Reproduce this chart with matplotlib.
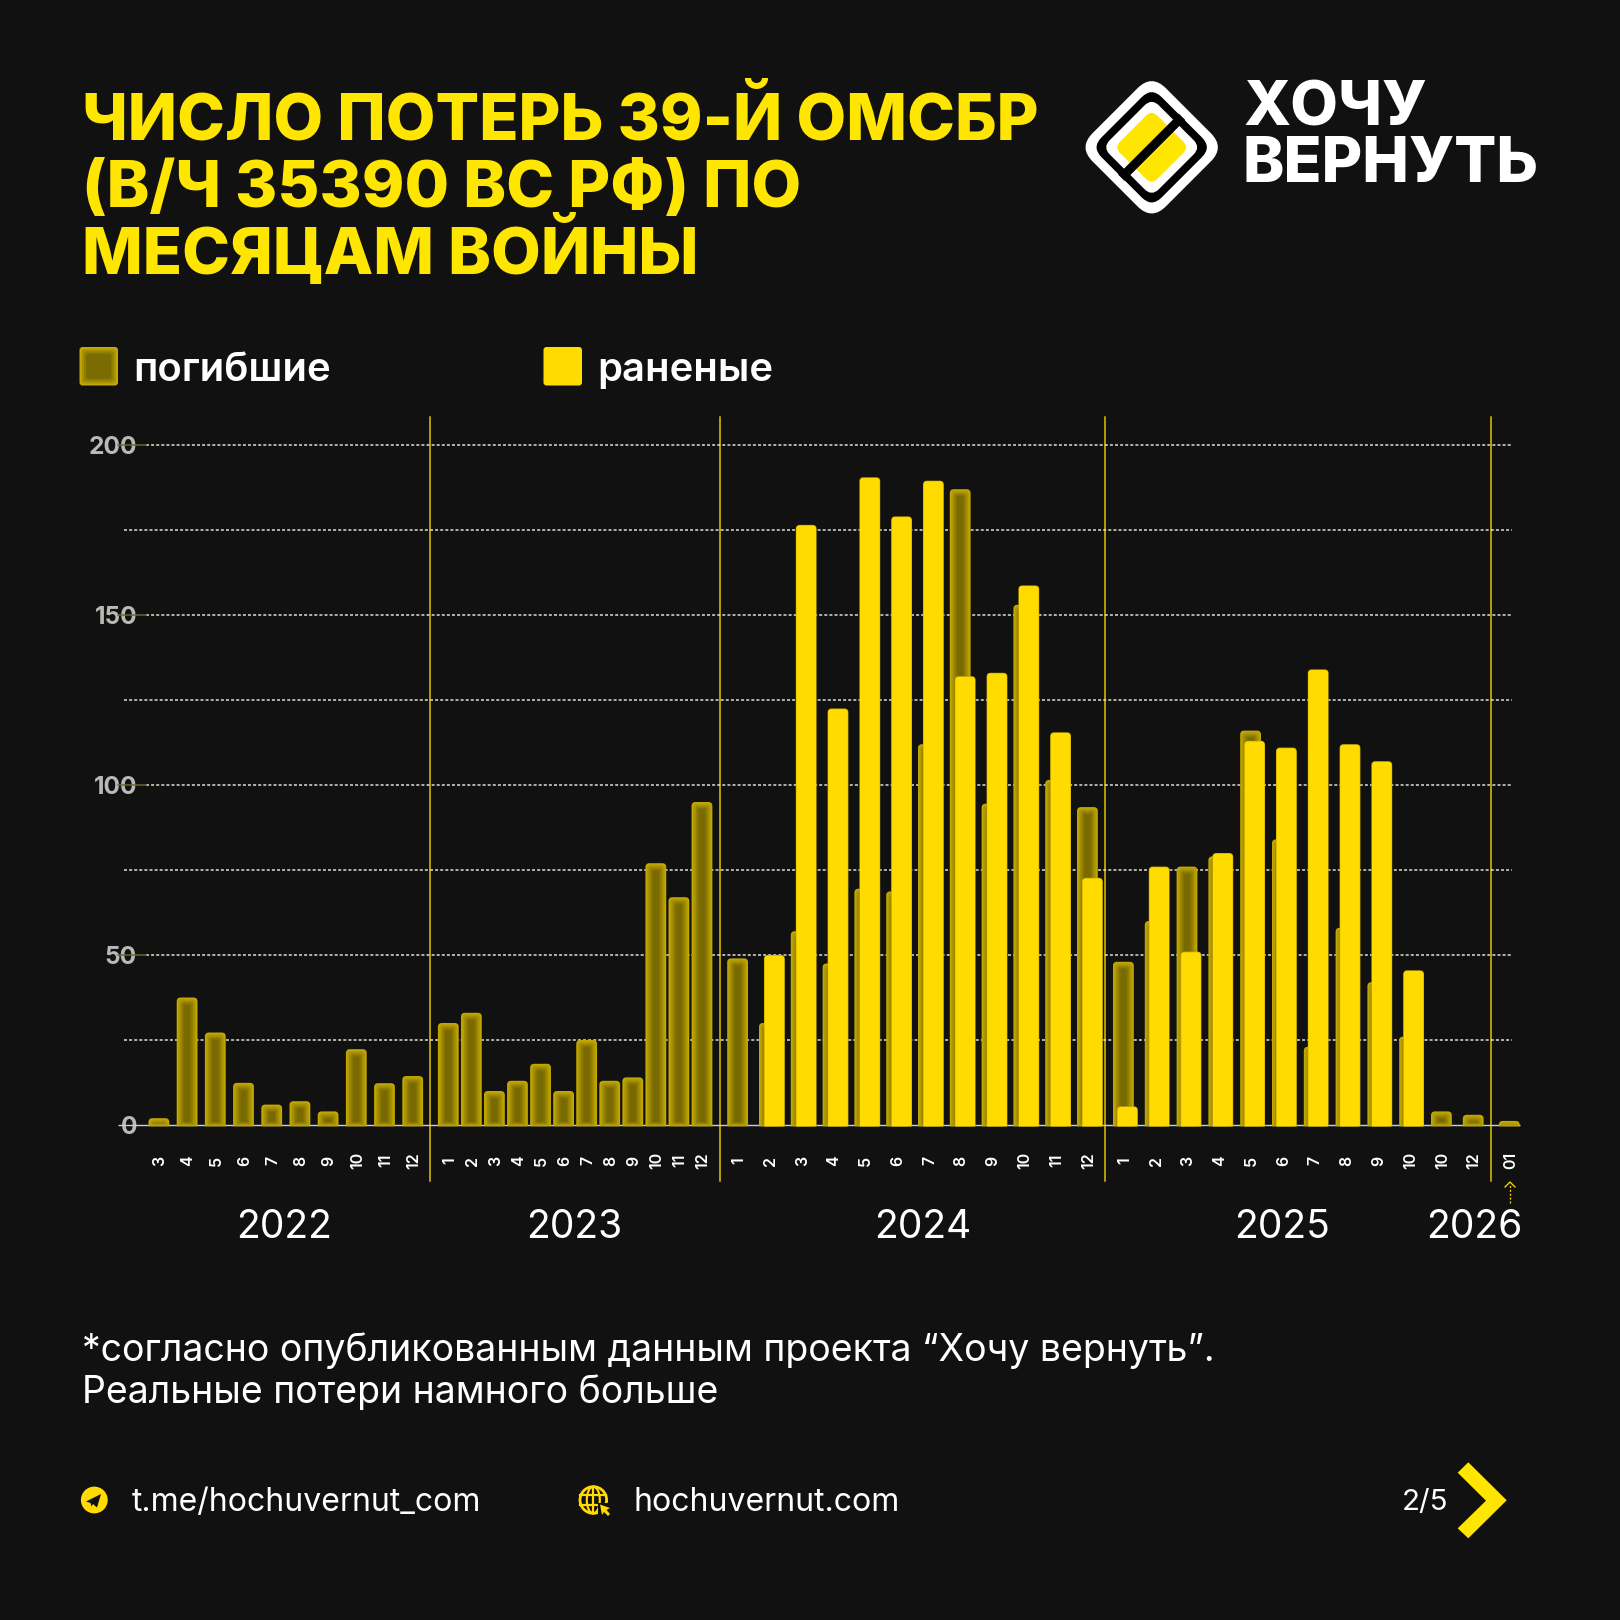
import numpy as np
import matplotlib
matplotlib.use('Agg')
import matplotlib.pyplot as plt
from matplotlib.patches import PathPatch, Rectangle, FancyBboxPatch, Circle, Ellipse, Polygon
from matplotlib.path import Path
from matplotlib.transforms import Affine2D

plt.rcParams['font.family'] = ['Inter', 'DejaVu Sans']

# данные по месяцам
months_2022 = ['3', '4', '5', '6', '7', '8', '9', '10', '11', '12']
dead_2022 = [2, 37.5, 27.2, 12.4, 6, 7, 4, 22.3, 12.3, 14.4]

months_2023 = ['1', '2', '3', '4', '5', '6', '7', '8', '9', '10', '11', '12']
dead_2023 = [30, 33, 10, 13, 18, 10, 25, 13, 14, 77, 67, 95]

months_2024 = ['1', '2', '3', '4', '5', '6', '7', '8', '9', '10', '11', '12']
dead_2024 = [49, 30, 57, 47.5, 69.5, 68.7, 112, 187, 94.5, 153, 101.5, 93.5]
wounded_2024 = [0, 50, 176.5, 122.5, 190.5, 179, 189.5, 132, 133, 158.7, 115.5, 72.7]

months_2025 = ['1', '2', '3', '4', '5', '6', '7', '8', '9', '10', '10', '12']
dead_2025 = [48, 60, 76, 79, 116, 84, 23, 58, 42, 26, 4, 3]
wounded_2025 = [5.5, 76, 51, 80, 113, 111, 134, 112, 107, 45.5, 0, 0]

months_2026 = ['01']
dead_2026 = [1.2]

years = ['2022', '2023', '2024', '2025', '2026']
y_ticks = [0, 50, 100, 150, 200]
grid_levels = [25, 50, 75, 100, 125, 150, 175, 200]

BG = '#111111'
YELLOW = '#FFDB00'
W, H = 1620, 1620
PX_PER_UNIT = 3.4
PT = 72 / 100  # пиксели в пункты

fig = plt.figure(figsize=(16.2, 16.2), dpi=100, facecolor=BG)

# слой для подписей и логотипа, координаты в пикселях
bg = fig.add_axes([0, 0, 1, 1])
bg.set_xlim(0, W)
bg.set_ylim(H, 0)
bg.axis('off')

# ось графика: x в пикселях, y в значениях
ax = fig.add_axes([0, (H - 1125) / H, 1, 680 / H])
ax.set_xlim(0, W)
ax.set_ylim(0, 200)
ax.axis('off')
ax.patch.set_alpha(0)


def top_round_bar(x, w, h, r, bottom, color, z):
    ry = r / PX_PER_UNIT
    if h - bottom < ry:
        ry = max(h - bottom, 0.01)
    x0, x1 = x - w / 2, x + w / 2
    verts = [(x0, bottom), (x0, h - ry), (x0, h), (x0 + r, h), (x1 - r, h), (x1, h), (x1, h - ry),
             (x1, bottom), (x0, bottom)]
    codes = [Path.MOVETO, Path.LINETO, Path.CURVE3, Path.CURVE3, Path.LINETO, Path.CURVE3, Path.CURVE3,
             Path.LINETO, Path.CLOSEPOLY]
    ax.add_patch(PathPatch(Path(verts, codes), facecolor=color, edgecolor='none', zorder=z, clip_on=False))


def dead_bar(x, value, w=20.8):
    # размытая внутренняя тень: слои от края к центру
    layers = ['#c2a800', '#b49c00', '#a48e00', '#938000', '#847300', '#786a00']
    for i, c in enumerate(layers):
        inset = i * 1.5
        h = value - inset / PX_PER_UNIT
        b = -0.4 + (inset * 0.6) / PX_PER_UNIT
        if h <= b or w - 2 * inset <= 0:
            break
        top_round_bar(x, w - 2 * inset, h, max(4 - inset * 0.4, 1.5), b, c, 3 + i * 0.01)


def wounded_bar(x, value, w=20.8):
    if value <= 0:
        return
    top_round_bar(x, w, value, 4, -0.4, '#c9ad00', 4)
    top_round_bar(x, w - 1.2, value - 0.2, 3.6, -0.4, YELLOW, 4.01)


# сетка
for lev in grid_levels:
    major = lev % 50 == 0
    start = 146 if major else 124
    ax.plot([start, 1512], [lev, lev], color='#e2e2d4', lw=1.5 * PT, dashes=(2, 1.4), zorder=1, clip_on=False)
    if major:
        ax.plot([118, 146], [lev, lev], color='#6b6436', lw=1.5 * PT, zorder=1, clip_on=False)
ax.plot([118, 1520], [0, 0], color='#cfcfc8', lw=1.4 * PT, zorder=2, clip_on=False, solid_capstyle='butt')

# подписи оси y
for t in y_ticks:
    bg.text(137, 1125 - t * PX_PER_UNIT, str(t), color='#b9b9b5', fontsize=24.5 * PT, fontweight='bold',
            ha='right', va='center_baseline')

# столбцы по годам
x_2022 = 158.9 + 28.2 * np.arange(len(months_2022))
x_2023 = 448.3 + 23.06 * np.arange(len(months_2023))
x_2024 = 737.6 + 31.8 * np.arange(len(months_2024))
x_2025 = 1123.4 + 31.8 * np.arange(len(months_2025))
x_2026 = [1509.3]

for x, v in zip(x_2022, dead_2022):
    dead_bar(x, v)
for x, v in zip(x_2023, dead_2023):
    dead_bar(x, v)
for x, d, r in zip(x_2024, dead_2024, wounded_2024):
    dead_bar(x, d)
    wounded_bar(x + 5, r)
for x, d, r in zip(x_2025, dead_2025, wounded_2025):
    dead_bar(x, d)
    wounded_bar(x + 4, r)
for x, v in zip(x_2026, dead_2026):
    dead_bar(x, v)

# подписи месяцев
for xs, labels in [(x_2022, months_2022), (x_2023, months_2023), (x_2024, months_2024),
                   (x_2025, months_2025), (x_2026, months_2026)]:
    for x, m in zip(xs, labels):
        bg.text(x + 1, 1160.5, m, color='white', fontsize=16 * PT, fontweight='semibold', rotation=90,
                ha='center', va='center')

# разделители годов
for x in [430.4, 719.8, 1105.3, 1491]:
    bg.plot([x, x], [417, 1181], color='#e6c800', lw=1.5 * PT, zorder=6)

# годы
for label, xc in zip(years, [284, 574.5, 923, 1281.7, 1474]):
    bg.text(xc, 1238, label, color='white', fontsize=39 * PT, ha='center', va='baseline')

# стрелка к 01
bg.plot([1510, 1510], [1203, 1184], color=YELLOW, lw=1.3 * PT, dashes=(1.5, 1.5))
bg.plot([1505, 1510, 1515], [1187, 1182, 1187], color=YELLOW, lw=1.3 * PT)

# заголовок
for line, base in zip(['ЧИСЛО ПОТЕРЬ 39-Й ОМСБР', '(В/Ч 35390 ВС РФ) ПО', 'МЕСЯЦАМ ВОЙНЫ'], [139.5, 206.6, 273.8]):
    bg.text(82, base, line, color='#FFE600', fontsize=64.5 * PT, fontweight='heavy', ha='left', va='baseline')

# логотип
cx, cy = 1151.7, 147.3
rot = Affine2D().rotate_deg(45).translate(cx, cy) + bg.transData
for s, r, c in [(51.8, 20, 'white'), (42.5, 14, 'black'), (34.7, 10, 'white'), (26.4, 8, '#FFE600')]:
    bg.add_patch(FancyBboxPatch((-s + r, -s + r), 2 * (s - r), 2 * (s - r), boxstyle='round,pad=%f,rounding_size=%f' % (r, r),
                                facecolor=c, edgecolor='none', transform=rot, zorder=5))
bg.add_patch(Rectangle((-43, -4.5), 86, 9, facecolor='black', edgecolor='none',
                       transform=Affine2D().rotate_deg(-45).translate(cx, cy) + bg.transData, zorder=6))
bg.text(1244, 125.7, 'ХОЧУ', color='white', fontsize=62 * PT, fontweight='heavy', ha='left', va='baseline')
bg.text(1243, 181.7, 'ВЕРНУТЬ', color='white', fontsize=62.5 * PT, fontweight='heavy', ha='left', va='baseline')

# легенда
for i, c in enumerate(['#c2a800', '#a89200', '#927f00', '#7a6c00']):
    d = i * 2.2
    bg.add_patch(FancyBboxPatch((79.5 + d, 347 + d), 38.5 - 2 * d, 38.5 - 2 * d, boxstyle='round,pad=0,rounding_size=3',
                                facecolor=c, edgecolor='none'))
bg.add_patch(FancyBboxPatch((543.5, 347), 38.5, 38.5, boxstyle='round,pad=0,rounding_size=3',
                            facecolor=YELLOW, edgecolor='none'))
bg.text(133, 380.7, 'погибшие', color='white', fontsize=40 * PT, fontweight='semibold', ha='left', va='baseline')
bg.text(597, 380.7, 'раненые', color='white', fontsize=40 * PT, fontweight='semibold', ha='left', va='baseline')

# сноска
bg.text(82, 1361, '*согласно опубликованным данным проекта “Хочу вернуть”.', color='white', fontsize=37.5 * PT,
        ha='left', va='baseline')
bg.text(82, 1403, 'Реальные потери намного больше', color='white', fontsize=37.5 * PT, ha='left', va='baseline')

# подвал: телеграм
bg.add_patch(Circle((94.3, 1500), 13.4, facecolor=YELLOW, edgecolor='none'))
bg.add_patch(Polygon([(86, 1501.5), (101, 1494), (97, 1507.5), (93, 1504), (91.5, 1506.5), (90.5, 1503)],
                     facecolor=BG, edgecolor='none', zorder=5))
bg.text(132, 1511, 't.me/hochuvernut_com', color='white', fontsize=32 * PT, ha='left', va='baseline')

# подвал: глобус с курсором
gx, gy = 593.3, 1500
bg.add_patch(Circle((gx, gy), 13.3, facecolor='none', edgecolor=YELLOW, lw=2.8 * PT))
bg.add_patch(Ellipse((gx, gy), 13, 26.6, facecolor='none', edgecolor=YELLOW, lw=2.2 * PT))
bg.plot([gx, gx], [gy - 13, gy + 13], color=YELLOW, lw=2.2 * PT)
bg.plot([gx - 13, gx + 13], [gy - 5, gy - 5], color=YELLOW, lw=2.2 * PT)
bg.plot([gx - 13, gx + 13], [gy + 5, gy + 5], color=YELLOW, lw=2.2 * PT)
bg.add_patch(Polygon([(598, 1503), (613, 1503), (613, 1519), (598, 1519)], facecolor=BG, edgecolor='none', zorder=4))
bg.add_patch(Polygon([(600, 1504.5), (610, 1508), (606.5, 1510), (610, 1514), (608, 1516), (604, 1512), (602, 1515)],
                     facecolor=YELLOW, edgecolor='none', zorder=5))
bg.text(633, 1511, 'hochuvernut.com', color='white', fontsize=32 * PT, ha='left', va='baseline')

# номер страницы и стрелка
bg.text(1402, 1510, '2/5', color='white', fontsize=29.5 * PT, ha='left', va='baseline')
bg.add_patch(Polygon([(1468.3, 1462.3), (1457.7, 1472.7), (1486, 1500.7), (1457.7, 1528.3), (1468.3, 1538.3), (1506.7, 1500.3)],
                     facecolor='#FFE600', edgecolor='none'))

fig.savefig('out.png', dpi=100, facecolor=BG)
